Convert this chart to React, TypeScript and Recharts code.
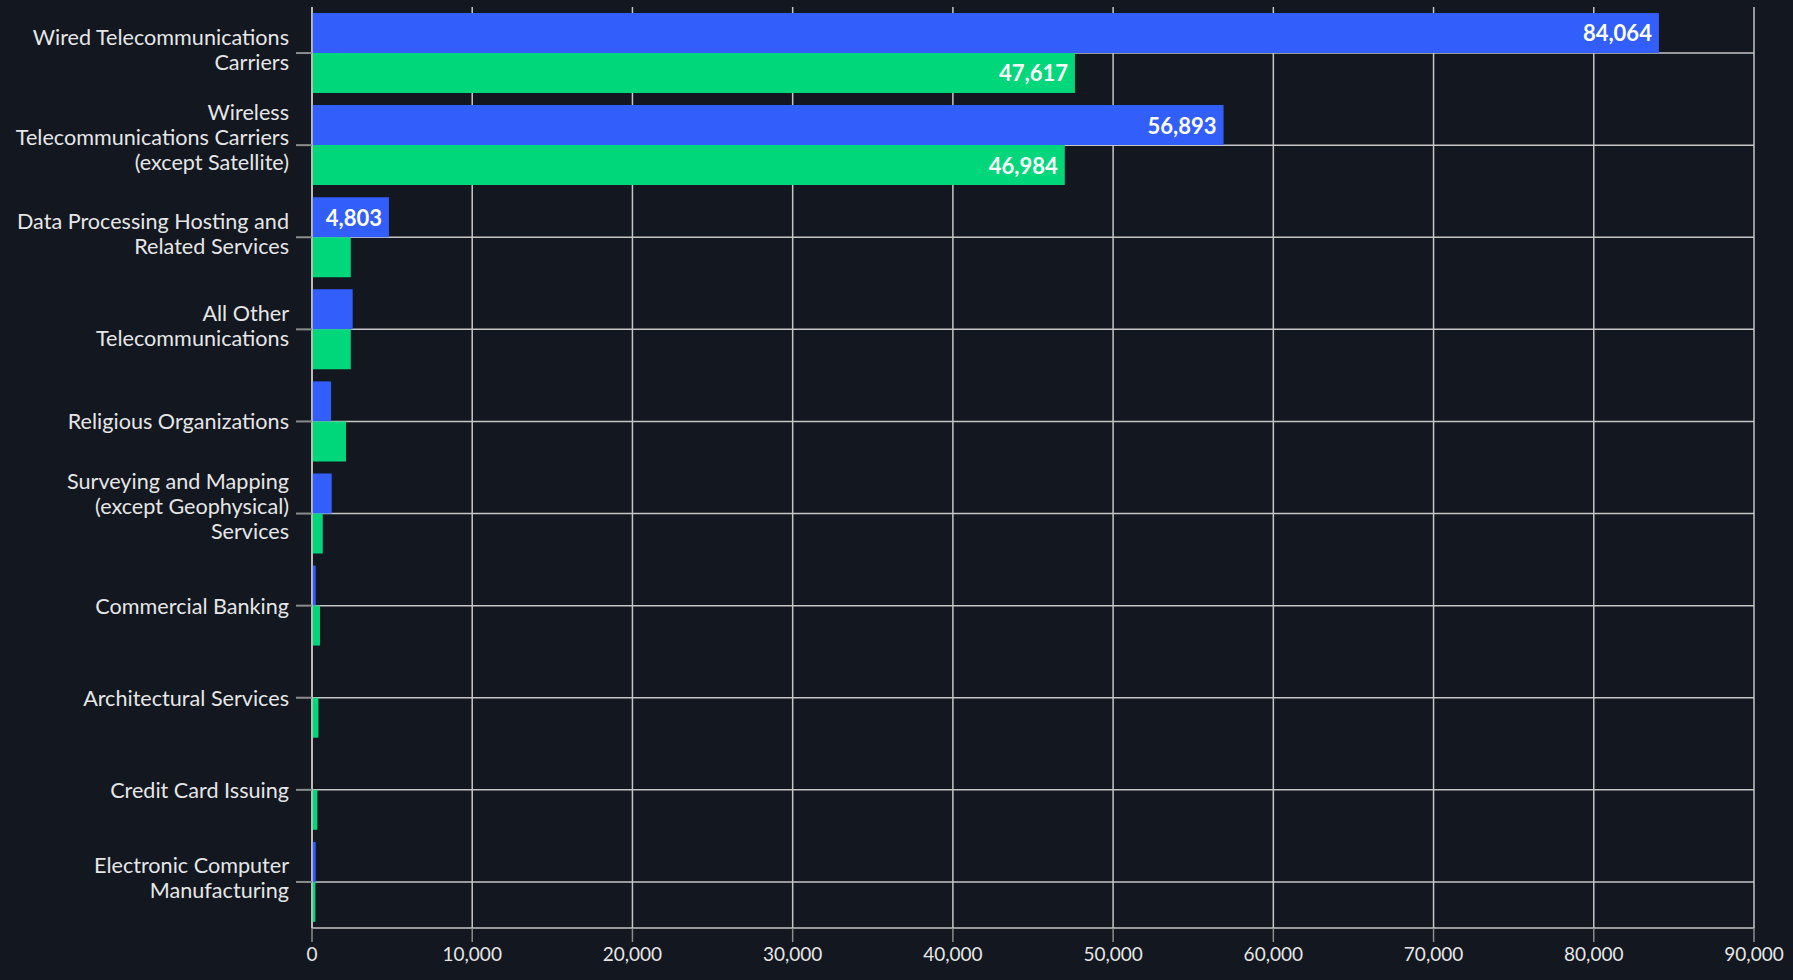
import React from 'react';
import { BarChart, Bar, XAxis, YAxis, CartesianGrid, LabelList } from 'recharts';

const categories = [
  'Wired Telecommunications Carriers',
  'Wireless Telecommunications Carriers (except Satellite)',
  'Data Processing Hosting and Related Services',
  'All Other Telecommunications',
  'Religious Organizations',
  'Surveying and Mapping (except Geophysical) Services',
  'Commercial Banking',
  'Architectural Services',
  'Credit Card Issuing',
  'Electronic Computer Manufacturing',
];

// how each category label wraps on the axis
const categoryLines = [
  ['Wired Telecommunications', 'Carriers'],
  ['Wireless', 'Telecommunications Carriers', '(except Satellite)'],
  ['Data Processing Hosting and', 'Related Services'],
  ['All Other', 'Telecommunications'],
  ['Religious Organizations'],
  ['Surveying and Mapping', '(except Geophysical)', 'Services'],
  ['Commercial Banking'],
  ['Architectural Services'],
  ['Credit Card Issuing'],
  ['Electronic Computer', 'Manufacturing'],
];

const blueValues = [84064, 56893, 4803, 2540, 1190, 1230, 230, 0, 0, 230];
const greenValues = [47617, 46984, 2420, 2420, 2120, 670, 500, 400, 330, 210];

const xTicks = [0, 10000, 20000, 30000, 40000, 50000, 60000, 70000, 80000, 90000];

const BG = '#121720';
const BLUE = '#325efc';
const GREEN = '#00d77b';
const GRID = '#c6c6c6';
const TEXT = '#e6e6e6';

const rows = categories.map((name, i) => ({
  name,
  blue: blueValues[i],
  green: greenValues[i],
}));

const fmt = (v: number) => v.toLocaleString('en-US');

const CategoryTick = (props: any) => {
  const { x, y, payload } = props;
  const idx = categories.indexOf(payload.value);
  const lines = idx >= 0 ? categoryLines[idx] : [payload.value];
  const lineH = 25;
  const n = lines.length;
  const startY = y - ((n - 1) * lineH) / 2 - (n - 1) * 4;
  return (
    <g>
      {lines.map((line: string, i: number) => (
        <text
          key={i}
          x={x}
          y={startY + i * lineH}
          textAnchor="end"
          dominantBaseline="central"
          fill={TEXT}
          fontSize={21.6}
          fontFamily="Lato"
        >
          {line}
        </text>
      ))}
    </g>
  );
};

// value shown inside the bar end, only when it fits
const renderValue = (props: any) => {
  const { x, y, width, height, value } = props;
  const label = fmt(value);
  if (width < label.length * 12 + 12) return null;
  return (
    <text
      x={x + width - 7}
      y={y + height / 2}
      textAnchor="end"
      dominantBaseline="central"
      fill="#ffffff"
      fontSize={22}
      fontWeight={700}
      fontFamily="Lato"
    >
      {label}
    </text>
  );
};

export default function App() {
  return (
    <div
      style={{
        position: 'absolute',
        left: 0,
        top: 0,
        width: 1793,
        height: 980,
        background: BG,
        fontFamily: 'Lato',
      }}
    >
      <BarChart
        layout="vertical"
        width={1793}
        height={980}
        data={rows}
        margin={{ top: 7, right: 39, bottom: 0, left: 0 }}
        barCategoryGap="6.5%"
        barGap={0}
      >
        <CartesianGrid stroke={GRID} strokeWidth={1.5} syncWithTicks />
        <XAxis
          type="number"
          domain={[0, 90000]}
          ticks={xTicks}
          tickFormatter={fmt}
          height={52}
          tickSize={14}
          tickMargin={6}
          axisLine={{ stroke: GRID, strokeWidth: 1.5 }}
          tickLine={{ stroke: '#8c8c8c', strokeWidth: 1.5 }}
          tick={{ fill: TEXT, fontSize: 19, fontFamily: 'Lato' }}
        />
        <YAxis
          type="category"
          dataKey="name"
          width={312}
          interval={0}
          tickSize={16}
          tickMargin={7}
          axisLine={{ stroke: GRID, strokeWidth: 1.5 }}
          tickLine={{ stroke: '#8c8c8c', strokeWidth: 2 }}
          tick={<CategoryTick />}
        />
        <Bar dataKey="blue" fill={BLUE} isAnimationActive={false}>
          <LabelList dataKey="blue" content={renderValue} />
        </Bar>
        <Bar dataKey="green" fill={GREEN} isAnimationActive={false}>
          <LabelList dataKey="green" content={renderValue} />
        </Bar>
      </BarChart>
    </div>
  );
}
